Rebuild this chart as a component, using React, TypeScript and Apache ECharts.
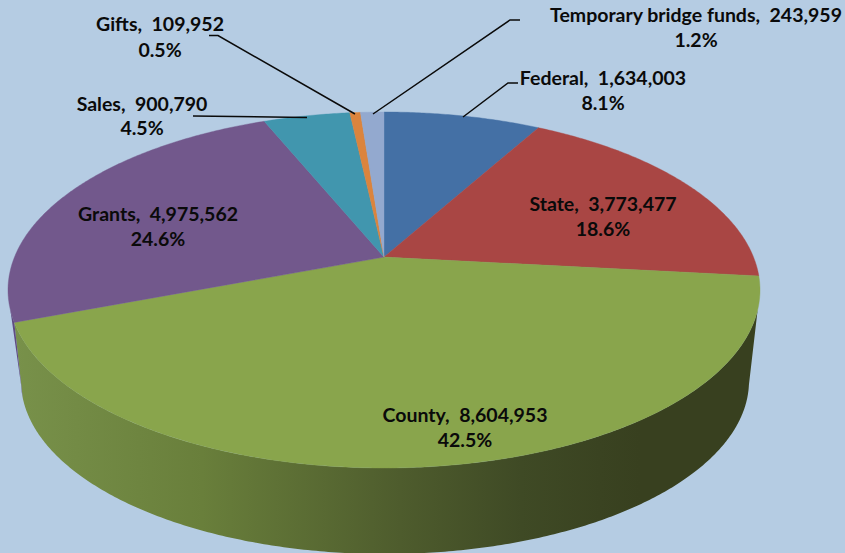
import React, { useEffect, useRef } from "react";
import * as echarts from "echarts";

const categories = ["Federal", "State", "County", "Grants", "Sales", "Gifts", "Temporary bridge funds"];
const amounts = [1634003, 3773477, 8604953, 4975562, 900790, 109952, 243959];
const percentLabels = ["8.1%", "18.6%", "42.5%", "24.6%", "4.5%", "0.5%", "1.2%"];

const sliceColors = ["#4470A5", "#A94644", "#89A54C", "#72588C", "#4196AE", "#DB843D", "#93A9CF"];
const wallColors = ["#2E4B70", "#722F2E", "#5A6E33", "#5F4B82", "#2C6676", "#944F25", "#63728C"];
const countyWallStops = [
  { offset: 0, color: "#78914A" },
  { offset: 0.3, color: "#697F3B" },
  { offset: 0.617, color: "#4E5C2D" },
  { offset: 0.81, color: "#3F4A25" },
  { offset: 0.936, color: "#3A4321" },
  { offset: 1, color: "#38401F" },
];

// Label centres, one per slice: [x, first line y, second line y]
const labelAnchors = [
  [603, 77, 102],
  [603, 203, 228],
  [465, 414, 439],
  [158, 213, 238],
  [142, 103, 127],
  [160, 23, 49],
  [696, 14, 39],
];
const leaderLines = [
  [[463, 117], [508, 83], [518, 83]],
  [[193, 116], [307, 117.5]],
  [[209, 35.5], [218, 35.5], [355, 114]],
  [[373, 114], [510, 20], [520, 20]],
];

const TOP = { cx: 384, cy: 290, rx: 376, ry: 178, d: -0.185 };
const BOTTOM = { cx: 385, cy: 381, rx: 364, ry: 173, d: -0.27 };
const FRONT_START = 0.297;
const FRONT_END = 0.703;
const FONT = "Lato";

const total = amounts.reduce((a, b) => a + b, 0);
const project = (e: typeof TOP, frac: number) => {
  const t = frac * 2 * Math.PI;
  const u = Math.sin(t);
  const v = -Math.cos(t);
  const k = 1 + v * e.d;
  return [e.cx + (e.rx * u * Math.sqrt(1 - e.d * e.d)) / k, e.cy + (e.ry * (v + e.d)) / k];
};
const rim = (e: typeof TOP, a: number, b: number) => {
  const n = Math.max(2, Math.ceil((b - a) * 720));
  const pts: number[][] = [];
  for (let i = 0; i <= n; i++) pts.push(project(e, a + ((b - a) * i) / n));
  return pts;
};
const range = (i: number) => {
  const a = amounts.slice(0, i).reduce((s, v) => s + v, 0) / total;
  return [a, a + amounts[i] / total];
};

export default function App() {
  const ref = useRef<HTMLDivElement>(null);
  useEffect(() => {
    document.body.style.margin = "0";
    const chart = echarts.init(ref.current!, undefined, { renderer: "svg" });
    const data = categories.map((name, i) => ({ name, value: amounts[i] }));
    const texts: any[] = [];
    categories.forEach((name, i) => {
      const [x, y1, y2] = labelAnchors[i];
      const line = (text: string, y: number) => ({
        type: "text",
        x,
        y,
        z: 20,
        style: {
          text,
          fill: "#0A0A0A",
          font: `bold 19.5px ${FONT}`,
          textAlign: "center",
          textVerticalAlign: "middle",
        },
      });
      texts.push(line(`${name},  ${amounts[i].toLocaleString("en-US")}`, y1), line(percentLabels[i], y2));
    });
    const lines = leaderLines.map((points) => ({
      type: "polyline",
      z: 19,
      shape: { points },
      style: { stroke: "#0A0A0A", lineWidth: 1.5, fill: "none" },
    }));
    chart.setOption({
      animation: false,
      backgroundColor: "#B5CCE3",
      tooltip: { show: false },
      graphic: [...lines, ...texts],
      series: [
        {
          type: "custom",
          name: "walls",
          coordinateSystem: "none",
          silent: true,
          z: 1,
          data,
          renderItem: (params: any) => {
            const i = params.dataIndex;
            const [a0, b0] = range(i);
            const a = Math.max(a0, FRONT_START);
            const b = Math.min(b0, FRONT_END);
            if (b <= a) return null;
            const points = [...rim(TOP, a, b), ...rim(BOTTOM, a, b).reverse()];
            const fill =
              categories[i] === "County"
                ? new echarts.graphic.LinearGradient(14, 0, 640, 0, countyWallStops, true)
                : wallColors[i];
            return { type: "polygon", shape: { points }, style: { fill, stroke: "none" } };
          },
        },
        {
          type: "custom",
          name: "faces",
          coordinateSystem: "none",
          silent: true,
          z: 2,
          data,
          renderItem: (params: any) => {
            const i = params.dataIndex;
            const [a, b] = range(i);
            const apex = [TOP.cx, TOP.cy + TOP.ry * TOP.d];
            return {
              type: "polygon",
              shape: { points: [apex, ...rim(TOP, a, b)] },
              style: { fill: sliceColors[i], stroke: sliceColors[i], lineWidth: 0.4 },
            };
          },
        },
      ],
    });
    return () => chart.dispose();
  }, []);
  return <div ref={ref} style={{ position: "absolute", left: 0, top: 0, width: 845, height: 553 }} />;
}
